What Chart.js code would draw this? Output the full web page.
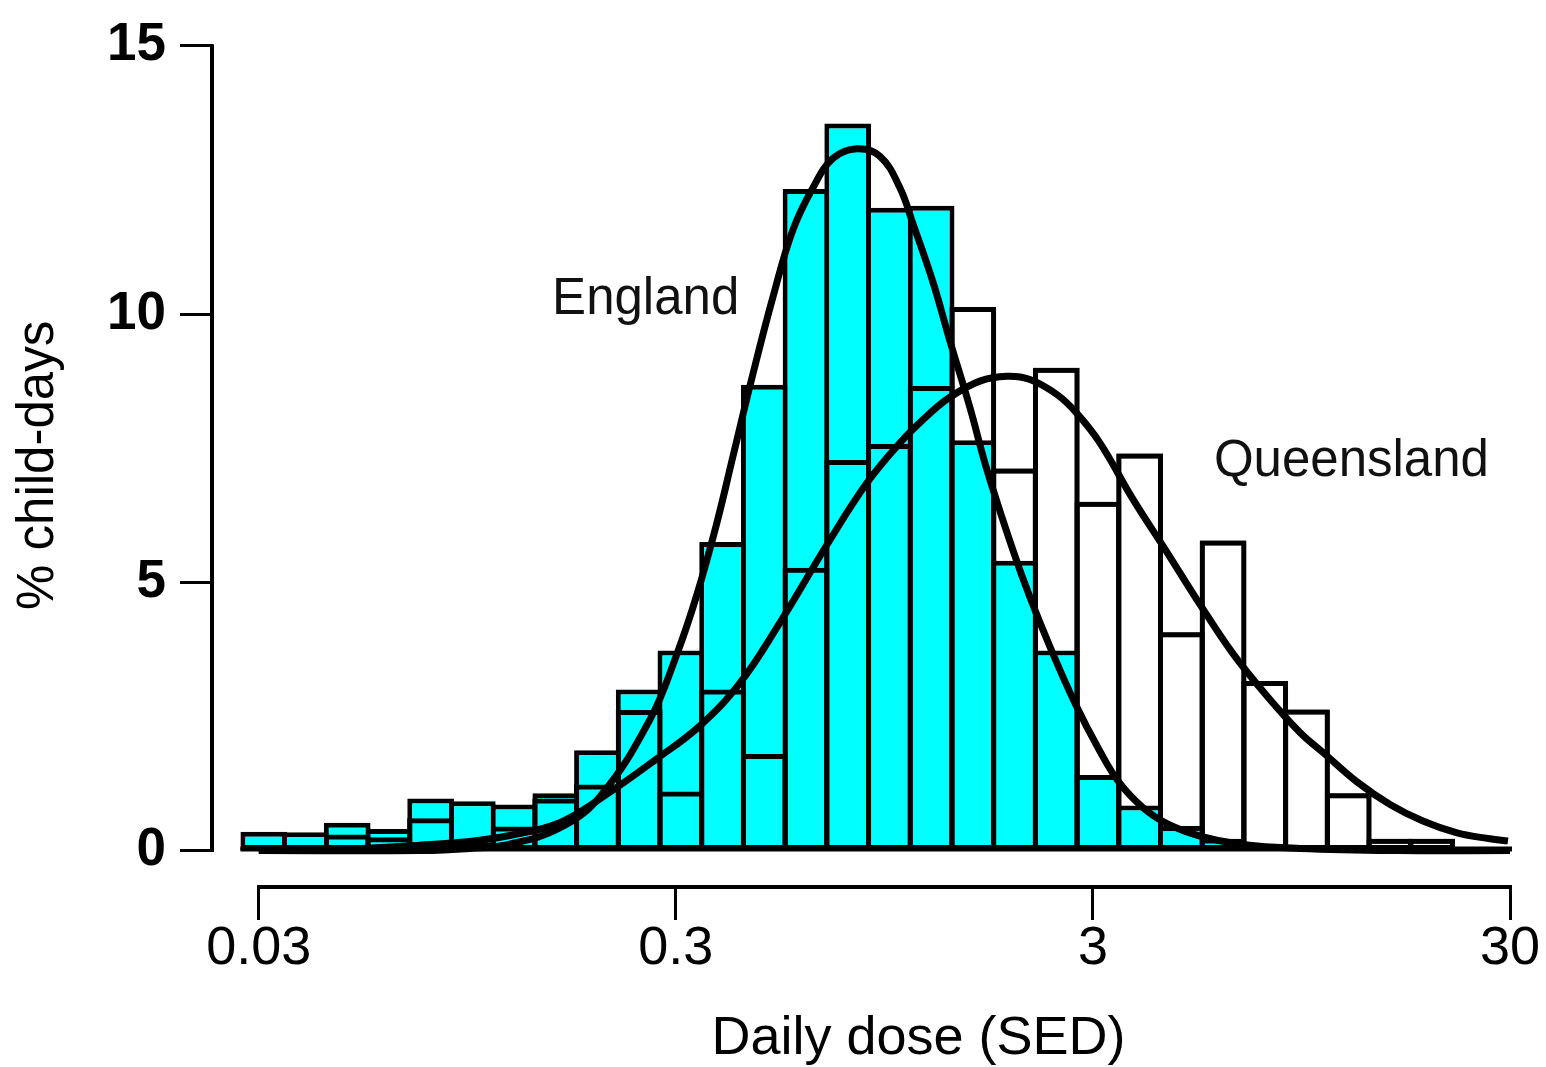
<!DOCTYPE html>
<html>
<head>
<meta charset="utf-8">
<title>Daily dose – England vs Queensland</title>
<script src="https://cdn.jsdelivr.net/npm/chart.js@4.4.1/dist/chart.umd.min.js"></script>
<style>
    html, body { margin: 0; padding: 0; background: #fff; }
    #wrap { position: relative; width: 1546px; height: 1067px; }
</style>
</head>
<body>
<div id="wrap"><canvas id="chart"></canvas></div>
<script>
// histogram bins (SED), 0.1 decade wide
const binCentres = [0.03084, 0.03883, 0.04888, 0.06154, 0.07747, 0.09753, 0.1228, 0.1546, 0.1946, 0.2450,
                    0.3084, 0.3883, 0.4888, 0.6154, 0.7747, 0.9753, 1.228, 1.546, 1.946, 2.450,
                    3.084, 3.883, 4.888, 6.154, 7.747, 9.753, 12.28, 15.46, 19.46];

// % child-days per bin
const englandPct = [0.35, 0.34, 0.52, 0.40, 0.97, 0.92, 0.86, 1.07, 1.87, 3.0,
                    3.73, 5.75, 8.68, 12.33, 13.55, 11.98, 12.02, 7.65, 5.4, 3.73,
                    1.41, 0.84, 0.46, 0.22, 0, 0, 0, 0, 0];
const queenslandPct = [0.05, 0.05, 0.3, 0.25, 0.6, 0.15, 0.45, 0.97, 1.23, 2.62,
                       1.1, 3.0, 1.8, 5.27, 7.28, 7.58, 8.66, 10.13, 7.12, 9.0,
                       6.5, 7.4, 4.07, 5.78, 3.16, 2.63, 1.07, 0.22, 0.22];

// fitted curves
const englandCurveDose = [0.03, 0.073, 0.0962, 0.120, 0.158, 0.197, 0.260, 0.302, 0.337, 0.376,
                          0.411, 0.458, 0.512, 0.572, 0.639, 0.714, 0.815, 0.926, 1.034, 1.110,
                          1.240, 1.362, 1.521, 1.671, 1.929, 2.119, 2.366, 2.716, 3.118, 3.482,
                          3.954, 4.516, 5.416, 6.757, 9.41, 16.3, 30];
const englandCurvePct = [0, 0, 0.04, 0.12, 0.42, 1.0, 2.44, 3.67, 4.77, 6.1,
                         7.34, 8.85, 10.3, 11.56, 12.35, 12.9, 13.08, 12.94, 12.35, 11.69,
                         10.6, 9.5, 8.26, 7.1, 5.6, 4.72, 3.8, 2.75, 1.85, 1.25,
                         0.8, 0.5, 0.27, 0.12, 0.04, 0, 0];

const queenslandCurveDose = [0.03, 0.0496, 0.073, 0.0962, 0.120, 0.158, 0.2005, 0.270, 0.343, 0.427,
                             0.533, 0.691, 0.861, 1.034, 1.220, 1.362, 1.607, 1.866, 2.119, 2.459,
                             2.746, 3.118, 3.741, 4.516, 5.416, 6.50, 7.84, 9.41, 10.68, 12.89,
                             15.47, 18.55, 22.39, 26.86, 29.67];
const queenslandCurvePct = [0, 0.03, 0.1, 0.17, 0.28, 0.52, 1.0, 1.71, 2.33, 3.12,
                            4.25, 5.7, 6.85, 7.6, 8.15, 8.45, 8.75, 8.84, 8.78, 8.5,
                            8.15, 7.6, 6.55, 5.56, 4.59, 3.67, 2.88, 2.2, 1.83, 1.28,
                            0.86, 0.55, 0.33, 0.22, 0.18];

const xTickValues = [0.03, 0.3, 3, 30];
const yTickValues = [0, 5, 10, 15];

const seriesNotes = [
    { text: 'England', dose: 0.254, pct: 10.27 },
    { text: 'Queensland', dose: 12.5, pct: 7.24 }
];

const FONT = "'Liberation Sans', Arial, sans-serif";
const BAR_BORDER = 5;
const BIN_PX = 41.7;               // one bin on screen, used to make neighbours share an edge
const barPct = 1 + BAR_BORDER / BIN_PX;

Chart.defaults.font.family = FONT;
Chart.defaults.color = '#000';

const toPoints = (xs, ys) => xs.map((v, i) => ({ x: v, y: ys[i] }));

const barBase = {
    type: 'bar',
    borderColor: '#000',
    borderWidth: BAR_BORDER,
    borderSkipped: false,
    grouped: false,
    categoryPercentage: 1,
    barPercentage: barPct,
    clip: false
};

const curveBase = {
    type: 'line',
    borderColor: '#000',
    borderWidth: 7,
    pointRadius: 0,
    tension: 0.4,
    fill: false,
    clip: false
};

/**
 * Axis lines, zero baseline and the two series notes
 */
const figureExtras = {
    id: 'figureExtras',
    afterLayout(chart) {
        // the original centres its x title a bit right of the plot centre
        chart.scales.x.right += 114;
    },
    afterDatasetsDraw(chart) {
        const { ctx, scales: { x, y }, chartArea } = chart;
        const meta = chart.getDatasetMeta(4);
        const first = meta.data[0];

        ctx.save();
        ctx.strokeStyle = '#000';
        ctx.lineCap = 'butt';

        // baseline under the bars
        ctx.lineWidth = 5;
        ctx.beginPath();
        ctx.moveTo(first.x - first.width / 2, y.getPixelForValue(0) - 1.5);
        ctx.lineTo(x.getPixelForValue(30) + 2, y.getPixelForValue(0) - 1.5);
        ctx.stroke();

        // y axis, 0..15 only
        ctx.lineWidth = 4;
        ctx.beginPath();
        ctx.moveTo(chartArea.left - 1, y.getPixelForValue(0) + 1.5);
        ctx.lineTo(chartArea.left - 1, y.getPixelForValue(15) - 1.5);
        ctx.stroke();

        // x axis, detached below the bars, 0.03..30 only
        ctx.beginPath();
        ctx.moveTo(x.getPixelForValue(0.03) - 1.5, chartArea.bottom + 2);
        ctx.lineTo(x.getPixelForValue(30) + 1.5, chartArea.bottom + 2);
        ctx.stroke();

        ctx.fillStyle = '#111';
        ctx.font = '51px ' + FONT;
        ctx.textAlign = 'center';
        ctx.textBaseline = 'middle';
        seriesNotes.forEach(n => {
            ctx.fillText(n.text, x.getPixelForValue(n.dose), y.getPixelForValue(n.pct));
        });
        ctx.restore();
    }
};

new Chart(document.getElementById('chart'), {
    type: 'bar',
    data: {
        datasets: [
            {
                ...curveBase,
                label: 'England fit',
                data: toPoints(englandCurveDose, englandCurvePct),
                order: 0
            },
            {
                ...curveBase,
                label: 'Queensland fit',
                data: toPoints(queenslandCurveDose, queenslandCurvePct),
                order: 1
            },
            {
                ...barBase,
                label: 'Queensland (outline)',
                data: toPoints(binCentres, queenslandPct),
                backgroundColor: 'rgba(0,0,0,0)',
                order: 2
            },
            {
                ...barBase,
                label: 'England',
                data: toPoints(binCentres, englandPct),
                backgroundColor: '#00ffff',
                order: 3
            },
            {
                ...barBase,
                label: 'Queensland',
                data: toPoints(binCentres, queenslandPct),
                backgroundColor: '#ffffff',
                order: 4
            }
        ]
    },
    options: {
        responsive: true,
        maintainAspectRatio: false,
        animation: false,
        devicePixelRatio: 1,
        layout: { padding: { top: 32, right: 36, bottom: 0, left: 0 } },
        plugins: {
            legend: { display: false },
            tooltip: { enabled: false }
        },
        scales: {
            x: {
                type: 'logarithmic',
                min: 0.0233,
                max: 30,
                offset: false,
                afterBuildTicks: (scale) => { scale.ticks = xTickValues.map(v => ({ value: v })); },
                afterFit: (scale) => { scale.height = 182; },
                border: { display: false },
                grid: {
                    drawOnChartArea: false,
                    offset: false,
                    tickLength: 35,
                    tickWidth: 3,
                    tickColor: '#000'
                },
                ticks: {
                    autoSkip: false,
                    maxRotation: 0,
                    padding: -3,
                    color: '#000',
                    font: { size: 54 },
                    callback: (v) => String(v)
                },
                title: {
                    display: true,
                    text: 'Daily dose (SED)',
                    color: '#000',
                    font: { size: 54 },
                    padding: { top: 0, bottom: -5 }
                }
            },
            y: {
                min: -0.642,
                max: 15,
                afterBuildTicks: (scale) => { scale.ticks = yTickValues.map(v => ({ value: v })); },
                afterFit: (scale) => { scale.width = 213; },
                border: { display: false },
                grid: {
                    drawOnChartArea: false,
                    tickLength: 33,
                    tickWidth: 3,
                    tickColor: '#000'
                },
                ticks: {
                    padding: 14,
                    color: '#000',
                    font: { size: 53, weight: 'bold' }
                },
                title: {
                    display: true,
                    text: '% child-days',
                    color: '#000',
                    font: { size: 51 },
                    padding: { top: 8, bottom: 0 }
                }
            }
        }
    },
    plugins: [figureExtras]
});
</script>
</body>
</html>
